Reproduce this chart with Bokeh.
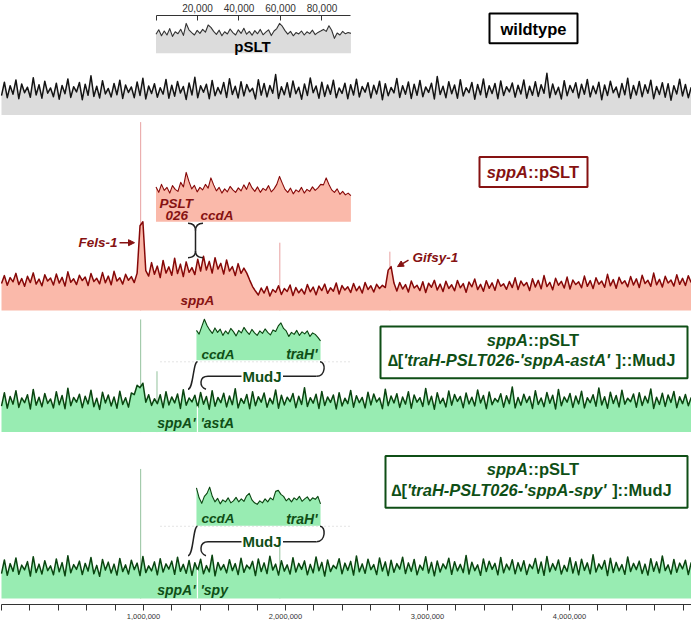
import numpy as np
from bokeh.plotting import figure
from bokeh.models import (Range1d, LinearAxis, FixedTicker, NumeralTickFormatter,
                          Label, BoxAnnotation, Arrow, NormalHead)
from bokeh.embed import file_html
from bokeh.resources import INLINE

# ---------------- data ----------------
GENOME_LEN = 4_857_000
PSLT_LEN = 93_939
PSLT_KEPT = (19_500, 79_300)        # pSLT part kept in the MudJ deletion strains
JUNCTION = 1_380_000                 # sppA' / 'astA ('spy) junction

GENOME_TICKS = list(range(0, 4_800_001, 200_000))
PSLT_TICKS = [0, 20_000, 40_000, 60_000, 80_000]

WT_COV = [
    78, 132, 70, 118, 84, 141, 66, 125, 90, 112, 72, 150, 81, 122, 68, 136, 88, 109, 74, 128,
    64, 119, 86, 145, 71, 114, 93, 131, 62, 124, 80, 158, 75, 116, 69, 138, 85, 107, 73, 127,
    82, 140, 67, 121, 91, 113, 70, 133, 79, 148, 65, 117, 87, 126, 72, 110, 84, 143, 68, 120,
    76, 135, 89, 115, 63, 129, 81, 152, 70, 118, 92, 124, 66, 139, 78, 111, 85, 131, 71, 146,
    83, 116, 69, 134, 77, 123, 94, 108, 65, 142, 80, 127, 73, 119, 88, 163, 67, 114, 82, 130,
    72, 137, 86, 112, 64, 125, 79, 149, 90, 117, 68, 132, 75, 121, 84, 140, 70, 109, 87, 128,
    66, 122, 81, 144, 73, 115, 92, 130, 69, 120, 85, 136, 62, 126, 78, 111, 89, 147, 71, 118,
    84, 133, 67, 124, 80, 139, 74, 113, 91, 128, 65, 155, 83, 116, 70, 134, 86, 121, 68, 142,
    77, 110, 90, 131, 64, 123, 82, 145, 71, 118, 87, 127, 66, 137, 79, 114, 93, 129, 72, 120,
    85, 141, 68, 116, 80, 134, 75, 122, 88, 168, 70, 125, 83, 112, 65, 138, 78, 119, 91, 130,
    69, 124, 84, 143, 73, 117, 86, 132, 62, 121, 79, 136, 90, 113, 71, 127, 82, 148, 67, 119,
    81, 135, 74, 122, 88, 140, 66, 115, 83, 130, 72, 126, 60, 118, 85, 144, 77, 123, 70, 112]

SPPA_COV = [
    108, 140, 101, 132, 115, 149, 104, 128, 97, 137, 112, 151, 106, 126, 99, 143, 118, 130, 102, 146,
    110, 133, 98, 155, 113, 127, 104, 141, 120, 134, 100, 148, 116, 129, 107, 152, 111, 138, 103, 157,
    118, 131, 106, 145, 121, 136, 112,
    150, 340, 356, 160,
    138, 192, 145, 178, 132, 201, 150, 175, 141, 210, 148, 186, 136, 195, 153, 172, 144, 206, 158, 218,
    162, 197, 150, 212, 166, 189, 146, 203, 158, 176, 140, 188, 149, 170,
    150, 122, 96, 78,
    62, 90, 70, 96, 58, 84, 73, 99, 64, 88, 76, 102, 60, 92, 71, 86, 66, 104, 75, 94,
    63, 98, 80, 106, 69, 91, 77, 110, 66, 100, 82, 95, 72, 108, 79, 97, 70, 112, 84, 99,
    74, 105, 88, 101, 92,
    162, 176, 110,
    78, 112, 86, 104, 74, 118, 90, 101, 80, 115, 72, 109, 93, 121, 82, 106, 76, 117, 88, 103,
    79, 120, 91, 108, 73, 114, 95, 126, 84, 105, 77, 119, 89, 111, 81, 124, 97, 107, 85, 116,
    92, 131, 84, 118, 99, 112, 80, 127, 94, 121, 87, 140, 96, 113, 83, 129, 101, 117, 90, 134,
    86, 122, 104, 115, 91, 138, 97, 120, 88, 131, 105, 118, 93, 145, 99, 124, 89, 133, 107, 119,
    95, 136, 102, 127, 92, 141, 108, 121, 97, 150, 103, 125, 94, 137, 110, 122, 98, 143, 105, 129,
    100, 139, 112]

ASTA_COV = [
    104, 158, 96, 143, 112, 166, 99, 137, 118, 150, 93, 171, 108, 140, 101, 155, 115, 133, 97, 162,
    110, 147, 94, 176, 106, 139, 120, 152, 98, 144, 113, 168, 102, 136, 91, 160, 117, 149, 105, 141,
    96, 164, 111, 138, 100, 157, 150, 188, 178, 196, 120, 150, 107, 134, 114, 150, 98, 162, 109, 141,
    117, 153, 95, 170, 108, 137, 121, 148, 99, 159, 112, 143, 92, 166, 104, 139, 118, 156, 101, 145,
    110, 174, 97, 135, 115, 151, 94, 162, 106, 142, 120, 157, 100, 136, 113, 169, 96, 148, 109, 140,
    122, 155, 98, 144, 111, 178, 103, 138, 116, 152, 95, 163, 107, 141, 119, 149, 93, 158, 105, 136,
    114, 167, 100, 146, 118, 139, 97, 160, 109, 153, 121, 137, 94, 172, 106, 145, 117, 154, 99, 141,
    112, 162, 96, 149, 120, 138, 103, 175, 110, 144, 92, 158, 115, 136, 101, 165, 108, 151, 123, 143,
    98, 157, 113, 140, 105, 169, 117, 147, 94, 161, 110, 135, 121, 154, 100, 146, 114, 181, 97, 139,
    108, 152, 119, 143, 95, 166, 111, 137, 102, 159, 116, 148, 93, 171, 106, 141, 120, 155, 99, 145,
    113, 164, 97, 138, 118, 150, 104, 177, 109, 142, 96, 160, 115, 147, 101, 168, 112, 136, 122, 153,
    100, 158, 107, 144, 117, 173, 95, 140, 111, 156, 103, 149, 119, 163, 98, 142, 114, 151, 106, 139]

SPY_COV = [
    100, 155, 93, 140, 109, 163, 97, 134, 115, 148, 90, 168, 104, 138, 98, 152, 112, 131, 95, 159,
    107, 144, 91, 172, 103, 136, 117, 150, 96, 141, 110, 165, 99, 133, 89, 157, 114, 146, 102, 138,
    94, 161, 108, 135, 98, 154, 116, 142, 92, 169, 104, 131, 111, 147, 95, 160, 106, 139, 118, 150,
    97, 166, 109, 137, 101, 153, 93, 144, 113, 158, 99, 132, 107, 174, 91, 145, 115, 136, 103, 156,
    112, 140, 96, 162, 105, 134, 119, 149, 92, 159, 108, 143, 100, 170, 114, 138, 94, 152, 110, 135,
    98, 164, 106, 141, 117, 151, 95, 137, 103, 167, 111, 145, 90, 155, 108, 133, 120, 160, 99, 142,
    113, 149, 94, 171, 107, 139, 101, 158, 116, 136, 96, 163, 110, 147, 92, 154, 105, 140, 118, 166,
    100, 143, 109, 157, 95, 134, 114, 168, 102, 145, 91, 151, 106, 139, 119, 162, 97, 148, 111, 137,
    104, 173, 98, 146, 112, 135, 93, 159, 108, 150, 117, 141, 95, 165, 103, 138, 115, 156, 99, 144,
    110, 152, 96, 137, 120, 161, 101, 147, 93, 169, 107, 140, 114, 155, 98, 133, 109, 164, 102, 148,
    95, 158, 113, 143, 99, 176, 106, 139, 118, 153, 92, 162, 104, 145, 111, 136, 97, 167, 108, 141,
    116, 150, 100, 138, 94, 160, 109, 147, 103, 171, 112, 135, 98, 157, 105, 142, 119, 154, 96, 145]

SPPA_SPIKE_POS = [980_000, 1_960_000, 2_735_000]
SPPA_SPIKE_VAL = [756, 272, 236]
ASTA_SPIKE_POS = [980_000, 1_095_000]
ASTA_SPIKE_VAL = [452, 244]
SPY_SPIKE_POS = [980_000, 1_960_000]
SPY_SPIKE_VAL = [520, 232]

PSLT_WT = [96, 118, 88, 112, 92, 124, 85, 108, 98, 121, 90, 150, 118, 104, 92, 115, 100, 120,
           106, 142, 130, 110, 95, 116, 88, 108, 97, 122, 104, 92, 118, 100, 126, 96, 110, 91,
           114, 98, 120, 93, 106, 118, 89, 112, 124, 150, 136, 114, 96, 110, 88, 104, 97, 112,
           92, 108, 99, 116, 94, 105, 112, 120, 110, 138, 116, 75, 102, 92, 110, 98, 104, 100]
PSLT_SPPA = [140, 118, 150, 126, 138, 115, 145, 130, 122, 158, 140, 198, 162, 132, 146, 120, 138, 128,
             150, 135, 176, 148, 124, 138, 115, 132, 120, 142, 128, 118, 136, 124, 148, 130, 158, 136,
             122, 140, 118, 134, 126, 145, 120, 132, 150, 182, 155, 130, 118, 135, 112, 128, 120, 138,
             115, 130, 122, 140, 126, 136, 150, 148, 176, 150, 128, 118, 132, 110, 122, 108, 115, 105]
PSLT_ASTA = [120, 105, 135, 165, 140, 122, 108, 130, 112, 125, 100, 118, 106, 128, 115, 98,
             120, 110, 132, 116, 104, 124, 110, 100, 118, 108, 126, 112, 102, 122, 116, 138,
             150, 128, 118, 96, 112, 104, 120, 100, 114, 106, 118, 96, 110, 104, 92, 78]
PSLT_SPY = [152, 112, 90, 118, 130, 155, 118, 96, 110, 88, 104, 96, 112, 92, 100, 114,
            96, 108, 98, 120, 130, 104, 92, 86, 100, 92, 108, 96, 112, 104, 138, 142,
            126, 118, 100, 110, 96, 112, 104, 118, 98, 108, 116, 100, 112, 106, 118, 88]

# ---------------- layout / styling ----------------
FONT = "Liberation Sans"
REF_W, REF_H = 691.0, 606.0
FW, FH = 691, 604
SX = FW / REF_W

GREY_FILL, GREY_LINE = "#dcdcdc", "#141414"
PINK_FILL, RED_LINE, RED_TXT, RED_SPIKE = "#fab9aa", "#860808", "#861212", "#e8a0a0"
GREEN_FILL, GREEN_LINE, GREEN_TXT, GREEN_SPIKE = "#98ecb2", "#0a4510", "#0f4f16", "#93c29d"

p = figure(frame_width=FW, frame_height=FH, output_backend="svg", toolbar_location=None,
           x_range=Range1d(-7_042, 4_859_155), y_range=Range1d(REF_H, 0),
           y_axis_location=None, min_border=0)
p.min_border_left = p.min_border_right = p.min_border_top = p.min_border_bottom = 0
p.grid.visible = False
p.outline_line_color = None
p.background_fill_color = "white"
p.border_fill_color = "white"

p.extra_x_ranges = {"px": Range1d(0, REF_W), "pslt": Range1d(-74_951, 258_111)}


def cov_range(base, k=0.25):
    return Range1d(start=(base - REF_H) / k, end=base / k)


p.extra_y_ranges = {"t1": cov_range(115), "t2": cov_range(311), "t3": cov_range(433),
                    "t4": cov_range(600), "i1": cov_range(53, 0.2), "i2": cov_range(222),
                    "i3": cov_range(361), "i4": cov_range(527)}


def spikes(pos, val, yr, color):
    p.segment(x0=pos, y0=[0] * len(pos), x1=pos, y1=val, line_color=color,
              line_width=1, y_range_name=yr)


def track(xs, ys, yr, fill, line, xr="default", lw=1.5):
    p.varea(x=xs, y1=np.zeros(len(xs)), y2=ys, fill_color=fill, x_range_name=xr,
            y_range_name=yr)
    p.line(xs, ys, line_color=line, line_width=lw, line_join="round",
           x_range_name=xr, y_range_name=yr)


gx = lambda arr: np.linspace(0, GENOME_LEN, len(arr))
px_ = lambda arr: np.linspace(0, PSLT_LEN, len(arr))
kx = lambda arr: np.linspace(PSLT_KEPT[0], PSLT_KEPT[1], len(arr))

# chromosome tracks
track(gx(WT_COV), WT_COV, "t1", GREY_FILL, GREY_LINE)
spikes(SPPA_SPIKE_POS, SPPA_SPIKE_VAL, "t2", RED_SPIKE)
track(gx(SPPA_COV), SPPA_COV, "t2", PINK_FILL, RED_LINE)
spikes(ASTA_SPIKE_POS, ASTA_SPIKE_VAL, "t3", GREEN_SPIKE)
track(gx(ASTA_COV), ASTA_COV, "t3", GREEN_FILL, GREEN_LINE)
spikes(SPY_SPIKE_POS, SPY_SPIKE_VAL, "t4", GREEN_SPIKE)
track(gx(SPY_COV), SPY_COV, "t4", GREEN_FILL, GREEN_LINE)

# junction white lines
for yr, cov in (("t3", ASTA_COV), ("t4", SPY_COV)):
    top = float(np.interp(JUNCTION, gx(cov), cov))
    p.segment(x0=[JUNCTION], y0=[0], x1=[JUNCTION], y1=[top], line_color="white",
              line_width=1.2, y_range_name=yr)

# pSLT insets
track(px_(PSLT_WT), PSLT_WT, "i1", GREY_FILL, "#333333", xr="pslt", lw=1.1)
track(px_(PSLT_SPPA), PSLT_SPPA, "i2", PINK_FILL, RED_LINE, xr="pslt", lw=1.1)
track(kx(PSLT_ASTA), PSLT_ASTA, "i3", GREEN_FILL, GREEN_LINE, xr="pslt", lw=1.1)
track(kx(PSLT_SPY), PSLT_SPY, "i4", GREEN_FILL, GREEN_LINE, xr="pslt", lw=1.1)

# faint dotted guide lines under the green insets
for yy in (362.5, 527.5):
    p.segment(x0=[160], y0=[yy], x1=[350], y1=[yy], line_color="#c8c8c8",
              line_dash="1 3", line_width=1, x_range_name="px")

# ---------------- axes ----------------
xa = p.xaxis[0]
xa.ticker = FixedTicker(ticks=GENOME_TICKS)
xa.formatter = NumeralTickFormatter(format="0,0")
xa.major_label_overrides = {t: "" for t in GENOME_TICKS if t % 1_000_000 or t == 0}
xa.bounds = (0, GENOME_LEN)
xa.major_tick_out = 6
xa.major_tick_in = 0
xa.minor_tick_out = 0
xa.axis_line_color = "#333333"
xa.major_tick_line_color = "#333333"
xa.major_label_text_font = FONT
xa.major_label_text_font_size = "7.5px"
xa.major_label_text_color = "#333333"
xa.major_label_standoff = 3

ta = LinearAxis(x_range_name="pslt", fixed_location=15,
                ticker=FixedTicker(ticks=PSLT_TICKS),
                formatter=NumeralTickFormatter(format="0,0"),
                major_label_overrides={0: ""}, bounds=(0, PSLT_LEN),
                major_tick_in=5, major_tick_out=0, minor_tick_in=0, minor_tick_out=0,
                axis_line_color="#333333", major_tick_line_color="#333333",
                major_label_text_font=FONT, major_label_text_font_size="10px",
                major_label_text_color="#333333", major_label_standoff=3)
p.add_layout(ta, "above")

# ---------------- annotations ----------------
AW = {" ": 278, "'": 238, "-": 333, ":": 333, "[": 333, "]": 333, "\u2206": 612,
      "A": 722, "H": 722, "J": 556, "L": 611, "M": 833, "P": 667, "S": 667, "T": 611,
      "a": 556, "c": 556, "d": 611, "e": 556, "l": 278, "p": 611, "r": 389, "s": 556,
      "t": 333, "u": 611, "y": 556}


def tw(s, size):
    return sum(AW.get(c, 556) for c in s) / 1000.0 * size / SX


def label(x, y, text, size, color, style="bold", align="left"):
    p.add_layout(Label(x=x, y=y, x_range_name="px", text=text, text_font=FONT,
                       text_font_size=f"{size}px", text_font_style=style,
                       text_color=color, text_align=align, text_baseline="middle"))


def rich(cx, y, parts, size, color):
    widths = [tw(t, size) for t, _ in parts]
    x = cx - sum(widths) / 2.0
    for (t, st), w in zip(parts, widths):
        if st is not None:
            label(x, y, t, size, color, st)
        x += w


def box(l, r, t, b, color):
    p.add_layout(BoxAnnotation(left=l, right=r, top=t, bottom=b, x_range_name="px",
                               fill_color=None, fill_alpha=0, line_color=color,
                               line_width=2, line_alpha=1))


BOX_FS = 16.5

# wildtype
label(252, 46, "pSLT", 15, "black", "bold", "center")
box(489, 577, 13, 43, "black")
label(533, 28.5, "wildtype", BOX_FS, "black", "bold", "center")

# sppA::pSLT
box(479, 587, 157, 187, RED_TXT)
rich(533, 172, [("sppA", "bold italic"), ("::pSLT", "bold")], BOX_FS, RED_TXT)
label(159, 204, "PSLT", 13.5, RED_TXT, "bold italic")
label(165, 215.5, "026", 13.5, RED_TXT, "bold italic")
label(200, 215.5, "ccdA", 13.5, RED_TXT, "bold italic")
label(117, 243, "Fels-1", 13.5, RED_TXT, "bold italic", "right")
p.add_layout(Arrow(end=NormalHead(size=6, fill_color=RED_TXT, line_color=RED_TXT),
                   x_start=119, y_start=243, x_end=134, y_end=243, x_range_name="px",
                   line_color=RED_TXT, line_width=1.5))
label(412, 258, "Gifsy-1", 13.5, RED_TXT, "bold italic")
p.add_layout(Arrow(end=NormalHead(size=6, fill_color=RED_TXT, line_color=RED_TXT),
                   x_start=408, y_start=260.5, x_end=397, y_end=267, x_range_name="px",
                   line_color=RED_TXT, line_width=1.5))
label(180, 301, "sppA", 13.5, RED_TXT, "bold italic")

# vertical brace between inset and sppA track
BR_X, BR_T, BR_J1, BR_J2, BR_B, BR_W = 195, 223.5, 231, 251, 258, 7.5
p.quadratic(x0=[BR_X, BR_X, BR_X, BR_X], y0=[BR_J1, BR_J1, BR_J2, BR_J2],
            x1=[BR_X - BR_W, BR_X + BR_W, BR_X - BR_W, BR_X + BR_W],
            y1=[BR_T, BR_T, BR_B, BR_B],
            cx=[BR_X] * 4, cy=[BR_T, BR_T, BR_B, BR_B],
            line_color="#222222", line_width=1.5, x_range_name="px")
p.segment(x0=[BR_X], y0=[BR_J1], x1=[BR_X], y1=[BR_J2], line_color="#222222",
          line_width=1.5, x_range_name="px")


def mudj(y_top, y_mid, y_bot, ins_lab_y, box_t, box_b, box_l, name, color):
    p.bezier(x0=[187.5, 205.5, 316], y0=[y_bot, y_bot, y_mid],
             x1=[197, 207.5, 319.5], y1=[y_top, y_mid, y_top],
             cx0=[193, 198.5, 325.5], cy0=[y_bot, y_bot - 2, y_mid],
             cx1=[192.5, 198.5, 325.5], cy1=[y_top, y_mid, y_top],
             line_color="#222222", line_width=1.5, x_range_name="px")
    p.segment(x0=[207.5, 282.5], y0=[y_mid, y_mid], x1=[241, 316], y1=[y_mid, y_mid],
              line_color="#222222", line_width=1.5, x_range_name="px")
    label(261.5, y_mid, "MudJ", 15, color, "bold", "center")
    label(201, ins_lab_y, "ccdA", 13.5, color, "bold italic")
    label(317, ins_lab_y, "traH'", 14, color, "bold italic", "right")
    box(box_l, 687, box_t, box_b, color)
    l1 = box_t + 13.5
    l2 = box_t + 34
    rich(533, l1, [("sppA", "bold italic"), ("::pSLT", "bold")], BOX_FS, color)
    rich(531, l2, [("\u2206[", "bold"), (f"'traH-PSLT026-'sppA-{name}'", "bold italic"),
                   (" ", None), ("]::MudJ", "bold")], BOX_FS, color)


mudj(362.5, 377, 390, 355, 327, 379, 380, "astA", GREEN_TXT)
label(195, 424, "sppA'", 14, GREEN_TXT, "bold italic", "right")
label(200, 424, "'astA", 14, GREEN_TXT, "bold italic")

mudj(527.5, 543, 557, 520, 457, 509, 385, "spy", GREEN_TXT)
label(195, 591, "sppA'", 14, GREEN_TXT, "bold italic", "right")
label(200, 591, "'spy", 14, GREEN_TXT, "bold italic")

open("out.html", "w").write(file_html(p, INLINE))
